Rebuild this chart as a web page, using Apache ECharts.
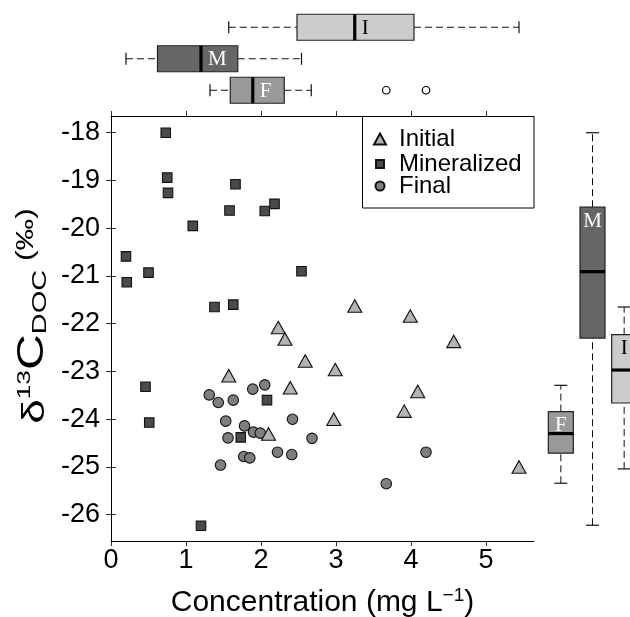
<!DOCTYPE html>
<html><head><meta charset="utf-8">
<script src="https://cdn.jsdelivr.net/npm/echarts@6/dist/echarts.min.js"></script>
<style>html,body{margin:0;padding:0;background:#fff}#c{width:630px;height:617px}</style>
</head><body><div id="c"></div><script>
// ---- data ----
const xTicks = [0, 1, 2, 3, 4, 5];
const yTicks = [-26, -25, -24, -23, -22, -21, -20, -19, -18];
const seriesNames = ['Initial', 'Mineralized', 'Final'];
const initial = [[2.23,-22.08],[2.32,-22.32],[2.59,-22.78],[2.99,-22.96],[1.57,-23.09],[2.39,-23.34],[2.97,-24.00],[2.10,-24.31],[3.25,-21.63],[3.99,-21.84],[4.57,-22.37],[4.09,-23.42],[3.91,-23.83],[5.44,-25.00]];
const mineralized = [[0.73,-18.00],[0.75,-18.94],[0.76,-19.26],[1.66,-19.08],[1.58,-19.63],[2.05,-19.64],[2.18,-19.49],[1.09,-19.95],[0.20,-20.59],[0.21,-21.13],[0.50,-20.93],[2.54,-20.90],[1.38,-21.65],[1.63,-21.60],[0.46,-23.32],[0.51,-24.07],[2.08,-23.60],[1.73,-24.38],[1.20,-26.23]];
const finalData = [[1.31,-23.49],[1.43,-23.65],[1.63,-23.60],[1.89,-23.37],[2.05,-23.28],[1.53,-24.04],[1.78,-24.14],[1.90,-24.27],[1.99,-24.29],[1.56,-24.39],[2.42,-24.00],[2.68,-24.40],[2.22,-24.69],[2.41,-24.74],[1.77,-24.78],[1.85,-24.81],[1.46,-24.96],[4.20,-24.69],[3.67,-25.35]];
// box plot stats: [min whisker, Q1, median, Q3, max whisker]
const concGroups = ['I', 'M', 'F'];
const concStats = [[1.57,2.48,3.25,4.04,5.44],[0.20,0.62,1.20,1.69,2.54],[1.32,1.59,1.89,2.31,2.67]];
const concOutliersF = [3.67, 4.20];
const isoGroups = ['F', 'M', 'I'];
const isoStats = [[-25.34,-24.71,-24.30,-23.84,-23.29],[-26.22,-22.30,-20.91,-19.56,-18.00],[-25.04,-23.66,-22.97,-22.23,-21.65]];

// ---- styles ----
const SANS = '"Liberation Sans", Arial, Helvetica, sans-serif';
const SERIF = '"Liberation Serif", "DejaVu Serif", serif';
const boxFill = { I: '#cccccc', M: '#666666', F: '#999999' };
const boxText = { I: '#000000', M: '#ffffff', F: '#ffffff' };
const X_MIN = 0, X_MAX = 5.64, Y_MIN = -26.55, Y_MAX = -17.65;

function boxH(params, api) {
  const ci = api.value(0);
  const name = concGroups[ci];
  const xs = [1,2,3,4,5].map(d => api.coord([api.value(d), ci])[0]);
  const yc = api.coord([api.value(1), ci])[1];
  const h = 13, cap = 6;
  const dash = { stroke: '#111', lineWidth: 1, lineDash: [7, 4] };
  const solid = { stroke: '#111', lineWidth: 1.2 };
  return { type: 'group', children: [
    { type: 'line', shape: { x1: xs[0], y1: yc, x2: xs[1], y2: yc }, style: dash },
    { type: 'line', shape: { x1: xs[3], y1: yc, x2: xs[4], y2: yc }, style: dash },
    { type: 'line', shape: { x1: xs[0], y1: yc - cap, x2: xs[0], y2: yc + cap }, style: solid },
    { type: 'line', shape: { x1: xs[4], y1: yc - cap, x2: xs[4], y2: yc + cap }, style: solid },
    { type: 'rect', shape: { x: xs[1], y: yc - h, width: xs[3] - xs[1], height: 2 * h }, style: { fill: boxFill[name], stroke: '#222', lineWidth: 1.2 } },
    { type: 'line', shape: { x1: xs[2], y1: yc - h, x2: xs[2], y2: yc + h }, style: { stroke: '#000', lineWidth: 3.2 } },
    { type: 'text', style: { text: name, x: xs[2] + 7, y: yc + 1, fill: boxText[name], font: '21px ' + SERIF, align: 'left', verticalAlign: 'middle' } }
  ]};
}
function boxV(params, api) {
  const ci = api.value(0);
  const name = isoGroups[ci];
  const ys = [1,2,3,4,5].map(d => api.coord([ci, api.value(d)])[1]);
  const xc = api.coord([ci, api.value(1)])[0];
  const w = 12.5, cap = 6.5;
  const dash = { stroke: '#111', lineWidth: 1, lineDash: [7, 4] };
  const solid = { stroke: '#111', lineWidth: 1.2 };
  return { type: 'group', children: [
    { type: 'line', shape: { x1: xc, y1: ys[0], x2: xc, y2: ys[1] }, style: dash },
    { type: 'line', shape: { x1: xc, y1: ys[3], x2: xc, y2: ys[4] }, style: dash },
    { type: 'line', shape: { x1: xc - cap, y1: ys[0], x2: xc + cap, y2: ys[0] }, style: solid },
    { type: 'line', shape: { x1: xc - cap, y1: ys[4], x2: xc + cap, y2: ys[4] }, style: solid },
    { type: 'rect', shape: { x: xc - w, y: ys[3], width: 2 * w, height: ys[1] - ys[3] }, style: { fill: boxFill[name], stroke: '#222', lineWidth: 1.2 } },
    { type: 'line', shape: { x1: xc - w, y1: ys[2], x2: xc + w, y2: ys[2] }, style: { stroke: '#000', lineWidth: 3.2 } },
    { type: 'text', style: { text: name, x: xc, y: ys[3] + 14, fill: boxText[name], font: '21px ' + SERIF, align: 'center', verticalAlign: 'middle' } }
  ]};
}

const axisLineS = { show: true, lineStyle: { color: '#000', width: 1 } };
const tickS = (vals) => ({ show: true, inside: false, length: 5, customValues: vals, lineStyle: { color: '#333', width: 1 } });
const legendText = (padLeft) => ({ fontSize: 24, fontFamily: SANS, color: '#000', lineHeight: 24, padding: [0, 0, 0, padLeft] });

const chart = echarts.init(document.getElementById('c'), null, { renderer: 'canvas' });
chart.setOption({
  animation: false,
  backgroundColor: '#fff',
  grid: [
    { left: 111, top: 116, width: 423, height: 425, outerBoundsMode: 'none' },
    { left: 111, top: 11.5, width: 423, height: 94.5, outerBoundsMode: 'none' },
    { left: 545, top: 116, width: 95, height: 425, outerBoundsMode: 'none' }
  ],
  xAxis: [
    { gridIndex: 0, type: 'value', min: X_MIN, max: X_MAX, position: 'bottom',
      axisLine: axisLineS, axisTick: tickS(xTicks), splitLine: { show: false },
      axisLabel: { customValues: xTicks, fontSize: 27, fontFamily: SANS, color: '#000', margin: 6 },
      name: '{a|Concentration (mg L}{s|\u22121}{a|)}', nameLocation: 'middle', nameGap: 45,
      nameTextStyle: { rich: {
        a: { fontSize: 30, fontFamily: SANS, color: '#000', lineHeight: 34 },
        s: { fontSize: 19, fontFamily: SANS, color: '#000', verticalAlign: 'top', lineHeight: 34 }
      } } },
    { gridIndex: 0, type: 'value', min: X_MIN, max: X_MAX, position: 'top',
      axisLine: axisLineS, axisTick: tickS(xTicks), axisLabel: { show: false }, splitLine: { show: false } },
    { gridIndex: 1, type: 'value', min: X_MIN, max: X_MAX, show: false },
    { gridIndex: 2, type: 'category', data: isoGroups, show: false }
  ],
  yAxis: [
    { gridIndex: 0, type: 'value', min: Y_MIN, max: Y_MAX, position: 'left',
      axisLine: axisLineS, axisTick: tickS(yTicks), splitLine: { show: false },
      axisLabel: { customValues: yTicks, fontSize: 27, fontFamily: SANS, color: '#000', margin: 11 } },
    { gridIndex: 0, type: 'value', min: Y_MIN, max: Y_MAX, position: 'right',
      axisLine: axisLineS, axisTick: tickS(yTicks), axisLabel: { show: false }, splitLine: { show: false } },
    { gridIndex: 1, type: 'category', data: concGroups, inverse: true, show: false },
    { gridIndex: 2, type: 'value', min: Y_MIN, max: Y_MAX, show: false }
  ],
  legend: [
    { data: [seriesNames[0]], left: 373, top: 127, itemWidth: 12, itemHeight: 11, padding: 0, itemGap: 0,
      textStyle: legendText(8) },
    { data: [seriesNames[1]], left: 375, top: 152, itemWidth: 8, itemHeight: 8, padding: 0, itemGap: 0,
      textStyle: legendText(10) },
    { data: [seriesNames[2]], left: 374.5, top: 174, itemWidth: 9, itemHeight: 9, padding: 0, itemGap: 0,
      textStyle: legendText(9.5) }
  ],
  graphic: [
    { type: 'rect', z: 3, shape: { x: 362.5, y: 116.5, width: 171.5, height: 91.5 },
      style: { fill: '#fff', stroke: '#000', lineWidth: 1 } },
    { type: 'text', z: 5, x: 33, y: 316, rotation: Math.PI / 2, scaleX: 1.38,
      style: { text: '{d|\u03b4}{s|13}{c|C}{b|DOC}{p| (\u2030)}', align: 'center', verticalAlign: 'middle', fill: '#000',
        rich: {
          d: { fontSize: 32, fontFamily: SANS, fill: '#000', lineHeight: 36, verticalAlign: 'bottom' },
          s: { fontSize: 19, fontFamily: SANS, fill: '#000', lineHeight: 19, verticalAlign: 'top' },
          c: { fontSize: 36, fontFamily: SANS, fill: '#000', lineHeight: 36, verticalAlign: 'bottom' },
          b: { fontSize: 21, fontFamily: SANS, fill: '#000', lineHeight: 21, verticalAlign: 'bottom' },
          p: { fontSize: 23, fontFamily: SANS, fill: '#000', lineHeight: 23, verticalAlign: 'top' }
        } } }
  ],
  series: [
    { name: seriesNames[2], type: 'scatter', xAxisIndex: 0, yAxisIndex: 0, data: finalData,
      symbol: 'circle', symbolSize: 10.5, itemStyle: { color: '#7f7f7f', borderColor: '#111', borderWidth: 1.1, opacity: 1 } },
    { name: seriesNames[0], type: 'scatter', xAxisIndex: 0, yAxisIndex: 0, data: initial,
      symbol: 'triangle', symbolSize: [14, 12.5], itemStyle: { color: '#b3b3b3', borderColor: '#111', borderWidth: 1.1, opacity: 1 } },
    { name: seriesNames[1], type: 'scatter', xAxisIndex: 0, yAxisIndex: 0, data: mineralized,
      symbol: 'rect', symbolSize: 9.5, itemStyle: { color: '#4a4a4a', borderColor: '#111', borderWidth: 1.1, opacity: 1 } },
    { type: 'custom', xAxisIndex: 2, yAxisIndex: 2, renderItem: boxH,
      encode: { x: [1, 2, 3, 4, 5], y: 0 }, data: concStats.map((s, i) => [i].concat(s)), silent: true },
    { type: 'scatter', xAxisIndex: 2, yAxisIndex: 2, data: concOutliersF.map(v => [v, 2]),
      symbol: 'circle', symbolSize: 7.5, itemStyle: { color: '#fff', borderColor: '#000', borderWidth: 1.2, opacity: 1 } },
    { type: 'custom', xAxisIndex: 3, yAxisIndex: 3, renderItem: boxV,
      encode: { x: 0, y: [1, 2, 3, 4, 5] }, data: isoStats.map((s, i) => [i].concat(s)), silent: true }
  ]
});
</script></body></html>
